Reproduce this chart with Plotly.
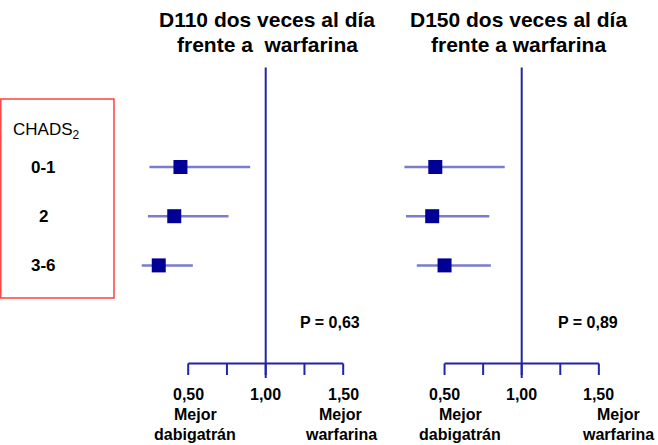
import plotly.graph_objects as go

# CHADS2 subgroups (top to bottom)
groups = ["0-1", "2", "3-6"]
row_pos = [3, 2, 1]

# Relative risk and 95% CI, dabigatran 110 mg bid vs warfarin
d110_rr = [0.45, 0.41, 0.31]
d110_lo = [0.25, 0.24, 0.20]
d110_hi = [0.90, 0.76, 0.53]

# Relative risk and 95% CI, dabigatran 150 mg bid vs warfarin
d150_rr = [0.44, 0.42, 0.50]
d150_lo = [0.24, 0.25, 0.32]
d150_hi = [0.89, 0.79, 0.80]

p_values = ["0,63", "0,89"]
titles = [("D110 dos veces al día", "frente a  warfarina"),
          ("D150 dos veces al día", "frente a warfarina")]

tick_vals = [0.50, 0.75, 1.00, 1.25, 1.50]
tick_text = {0.50: "0,50", 1.00: "1,00", 1.50: "1,50"}

W, H = 658, 445
FONT = "Liberation Sans"
AXIS_BLUE = "#2323a6"
CI_BLUE = "#7b7bcf"
BOX_BLUE = "#000096"

# pixel scale: ~155 px per RR unit; rows 49.2 px apart
def yr(px):
    return 3 + (167 - px) / 49.2

def px_x(px):
    return px / W

def px_y(px):
    return 1 - px / H

def label(x, y, text, size, bold=True, xref="paper", yref="paper", xanchor="center"):
    font = dict(family=FONT, size=size, color="black")
    if bold:
        font["weight"] = "bold"
    fig.add_annotation(x=x, xref=xref, y=y, yref=yref, text=text, showarrow=False,
                       xanchor=xanchor, yanchor="middle", font=font)

fig = go.Figure()

panels = [
    dict(xa="x", rr=d110_rr, lo=d110_lo, hi=d110_hi, dom=(130, 380), one=265.7, unit=155.0),
    dict(xa="x2", rr=d150_rr, lo=d150_lo, hi=d150_hi, dom=(390, 650), one=521.7, unit=154.3),
]

for i, p in enumerate(panels):
    # confidence intervals
    for r, lo, hi in zip(row_pos, p["lo"], p["hi"]):
        fig.add_trace(go.Scatter(x=[lo, hi], y=[r, r], xaxis=p["xa"], yaxis="y",
                                 mode="lines", line=dict(color=CI_BLUE, width=2.5),
                                 showlegend=False, hoverinfo="skip"))
    # point estimates
    fig.add_trace(go.Scatter(x=p["rr"], y=row_pos, xaxis=p["xa"], yaxis="y",
                             mode="markers",
                             marker=dict(symbol="square", size=14, color=BOX_BLUE,
                                         line=dict(width=0)),
                             showlegend=False))
    # line of no effect
    fig.add_shape(type="line", xref=p["xa"], yref="y", x0=1, x1=1,
                  y0=yr(378), y1=yr(67.5), line=dict(color=AXIS_BLUE, width=2))
    # scale line with ticks
    fig.add_shape(type="line", xref=p["xa"], yref="y", x0=tick_vals[0], x1=tick_vals[-1],
                  y0=yr(363.5), y1=yr(363.5), line=dict(color=AXIS_BLUE, width=2))
    for t in tick_vals:
        fig.add_shape(type="line", xref=p["xa"], yref="y", x0=t, x1=t,
                      y0=yr(363.5), y1=yr(375), line=dict(color=AXIS_BLUE, width=2))
        if t in tick_text:
            label(t, px_y(394), tick_text[t], 16, xref=p["xa"])

    # axis ranges from pixel geometry
    a, b = p["dom"]
    rng = [1 + (a - p["one"]) / p["unit"], 1 + (b - p["one"]) / p["unit"]]
    axkey = "xaxis" if p["xa"] == "x" else "xaxis2"
    fig.layout[axkey] = dict(domain=[px_x(a), px_x(b)], range=rng, visible=False,
                             anchor="y", fixedrange=True)

# favour labels
fav = [(195, "Mejor", "dabigatrán"), (341, "Mejor", "warfarina"),
       (460, "Mejor", "dabigatrán"), (618, "Mejor", "warfarina")]
for xp, l1, l2 in fav:
    label(px_x(xp), px_y(414), l1, 16)
    label(px_x(xp), px_y(434), l2, 16)

# titles
for xc, (t1, t2) in zip([267, 518], titles):
    label(px_x(xc), px_y(19), t1, 21)
    label(px_x(xc), px_y(44), t2, 21)

# p-values
for xc, pv in zip([330, 588], p_values):
    label(px_x(xc), px_y(322), f"P = {pv}", 16)

# subgroup box
fig.add_shape(type="rect", xref="paper", yref="paper",
              x0=px_x(0.8), x1=px_x(114), y0=px_y(99), y1=px_y(298),
              line=dict(color="#ff4040", width=1.5))
label(px_x(11), px_y(131), "CHADS<sub>2</sub>", 17, bold=False, xanchor="left")
for g, r in zip(groups, row_pos):
    label(px_x(43), r, g, 17, yref="y")

fig.update_layout(
    width=W, height=H,
    margin=dict(l=0, r=0, t=0, b=0),
    paper_bgcolor="white", plot_bgcolor="white",
    yaxis=dict(domain=[0, 1], range=[yr(H), yr(0)], visible=False, fixedrange=True),
    showlegend=False,
)

fig.write_html("out.html", config={"displayModeBar": False})
